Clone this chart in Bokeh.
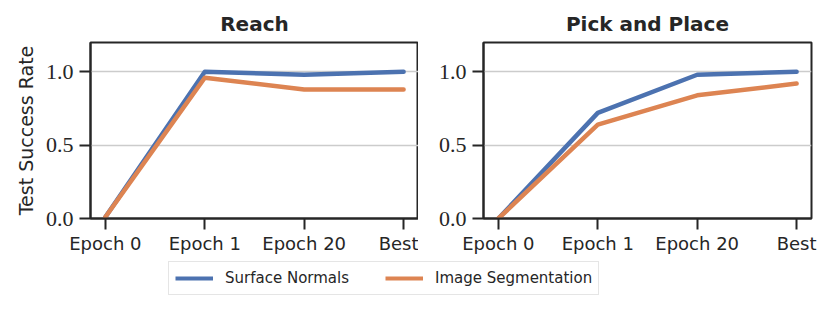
from bokeh.plotting import figure
from bokeh.layouts import column, row
from bokeh.models import Range1d, FixedTicker, Legend, LegendItem
from bokeh.embed import file_html
from bokeh.resources import INLINE

categories = ["Epoch 0", "Epoch 1", "Epoch 20", "Best"]
reach_normals = [0.01, 1.0, 0.98, 1.0]
reach_seg = [0.01, 0.96, 0.88, 0.88]
pick_normals = [0.0, 0.72, 0.98, 1.0]
pick_seg = [0.0, 0.64, 0.84, 0.92]
y_ticks = [0.0, 0.5, 1.0]
series_names = ["Surface Normals", "Image Segmentation"]
colors = ["#4C72B0", "#DD8452"]

INK = "#262626"
SANS = "DejaVu Sans"
SERIF = "Liberation Serif"


def make_panel(title, ys, left, width, ylabel=None, right=0):
    p = figure(width=width, height=256, output_backend="svg", toolbar_location=None,
               x_range=Range1d(-0.15, len(categories) - 1 + 0.15), y_range=Range1d(0, 1.2),
               min_border_left=left, min_border_right=right, min_border_top=42,
               min_border_bottom=0, title=title)
    xs = list(range(len(categories)))
    for y, c in zip(ys, colors):
        p.line(xs, y, line_color=c, line_width=4.5, line_cap="round", line_join="round")
    p.title.align = "center"
    p.title.text_font = SANS
    p.title.text_font_size = "20px"
    p.title.text_font_style = "bold"
    p.title.text_color = INK
    p.title.standoff = 14
    p.outline_line_color = INK
    p.outline_line_width = 2
    p.outline_line_alpha = 1
    p.xgrid.visible = False
    p.ygrid.grid_line_color = "#cccccc"
    p.ygrid.grid_line_width = 1.5
    p.xaxis.ticker = FixedTicker(ticks=xs)
    p.xaxis.major_label_overrides = {i: c for i, c in enumerate(categories)}
    p.yaxis.ticker = FixedTicker(ticks=y_ticks)
    p.yaxis.major_label_overrides = {t: f"{t:.1f}" for t in y_ticks}
    for ax in (p.xaxis[0], p.yaxis[0]):
        ax.axis_line_color = INK
        ax.axis_line_width = 2
        ax.major_tick_line_color = INK
        ax.major_tick_line_width = 2
        ax.major_tick_in = 0
        ax.major_tick_out = 11
        ax.minor_tick_line_color = None
        ax.major_label_text_color = INK
    p.xaxis.major_label_text_font = SANS
    p.xaxis.major_label_text_font_size = "18px"
    p.xaxis.major_label_standoff = 3
    p.yaxis.major_label_text_font = SERIF
    p.yaxis.major_label_text_font_size = "22px"
    p.yaxis.major_label_standoff = 6
    if ylabel:
        p.yaxis.axis_label = ylabel
        p.yaxis.axis_label_text_font = SANS
        p.yaxis.axis_label_text_font_style = "normal"
        p.yaxis.axis_label_text_font_size = "19px"
        p.yaxis.axis_label_text_color = INK
        p.yaxis.axis_label_standoff = 6
    return p


p1 = make_panel("Reach", [reach_normals, reach_seg], left=90, width=418, ylabel="Test Success Rate")
p2 = make_panel("Pick and Place", [pick_normals, pick_seg], left=65, width=401, right=8)

leg = figure(width=811, height=45, output_backend="svg", toolbar_location=None,
             x_range=Range1d(0, 1), y_range=Range1d(0, 1), min_border=0)
leg.axis.visible = False
leg.grid.visible = False
leg.outline_line_color = None
items = []
for name, c in zip(series_names, colors):
    r = leg.line([5, 6], [5, 6], line_color=c, line_width=4)
    items.append(LegendItem(label=name, renderers=[r]))
legend = Legend(items=items, orientation="horizontal", location=(168, 6),
                label_text_font=SANS, label_text_font_size="15px", label_text_color=INK,
                glyph_width=38, glyph_height=20, label_standoff=12, spacing=36,
                padding=6, margin=0, border_line_color="#cccccc", border_line_width=1.5,
                background_fill_alpha=1)
leg.add_layout(legend)

layout = column(row(p1, p2, spacing=0), leg, spacing=0)

open("out.html", "w").write(file_html(layout, INLINE))
